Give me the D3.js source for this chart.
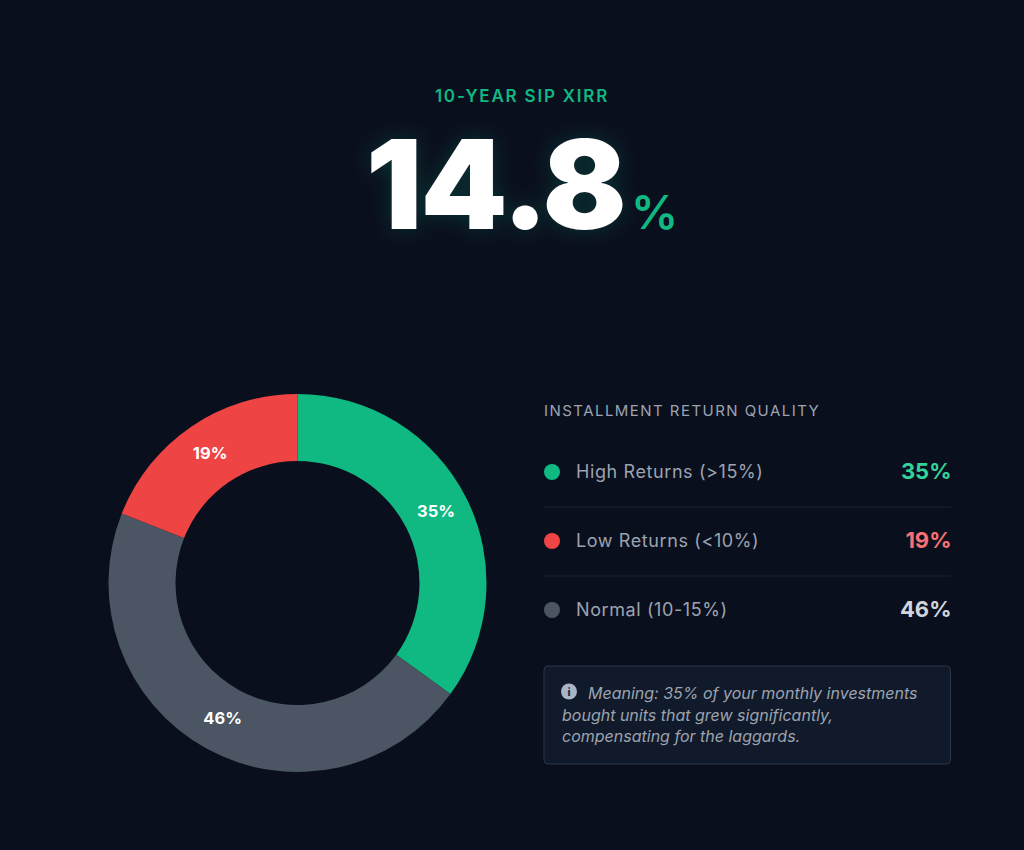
<!DOCTYPE html>
<html><head><meta charset="utf-8">
<script src="https://cdn.jsdelivr.net/npm/d3@7/dist/d3.min.js"></script>
<style>html,body{margin:0;padding:0;background:#0a0f1e;overflow:hidden}svg{display:block}</style>
</head><body><svg id="c" width="1024" height="850"></svg>
<script>
const categories=["High Returns (>15%)","Normal (10-15%)","Low Returns (<10%)"];
const values=[35,46,19];
const colors=["#10b981","#4b5563","#ef4444"];
const legendOrder=["High Returns (>15%)","Low Returns (<10%)","Normal (10-15%)"];
const legendValues=[35,19,46];
const legendDots=["#10b981","#ef4444","#4b5563"];
const legendValueColors=["#34d399","#f87171","#d1d5db"];
const noteLines=["Meaning: 35% of your monthly investments","bought units that grew significantly,","compensating for the laggards."];
const body="Inter, sans-serif";
const svg=d3.select("#c");
const defs=svg.append("defs");
const g1=defs.append("filter").attr("id","glow").attr("x","-20%").attr("y","-30%").attr("width","140%").attr("height","160%");
g1.append("feDropShadow").attr("dx",0).attr("dy",0).attr("stdDeviation",10).attr("flood-color","#10b981").attr("flood-opacity",.22);
svg.append("rect").attr("width",1024).attr("height",850).attr("fill","#0a0f1e");
svg.append("text").attr("x",522).attr("y",101.5).attr("text-anchor","middle").attr("fill","#10b981")
 .attr("font-family",body).attr("font-size",17).attr("font-weight",600).attr("letter-spacing",1.8).text("10-YEAR SIP XIRR");
svg.append("text").attr("x",366).attr("y",229).attr("fill","#fff").attr("filter","url(#glow)")
 .attr("font-family",body).attr("font-size",124).attr("font-weight",900).attr("letter-spacing",-1.5).text("14.8");
svg.append("text").attr("x",631).attr("y",229).attr("fill","#10b981")
 .attr("font-family",body).attr("font-size",47).attr("font-weight",600).text("%");
const pie=d3.pie().sort(null)(values);
const arc=d3.arc().innerRadius(122).outerRadius(189);
const d=svg.append("g").attr("transform","translate(297.5,583)");
d.selectAll("path").data(pie).join("path").attr("d",arc).attr("fill",(p,i)=>colors[i]);
d.selectAll("text").data(pie).join("text").attr("transform",p=>`translate(${arc.centroid(p)})`)
 .attr("text-anchor","middle").attr("dy","0.3em").attr("fill","#fff").attr("font-family",body).attr("font-size",16.5).attr("font-weight",700)
 .text(p=>p.data+"%");
svg.append("text").attr("x",544).attr("y",416).attr("fill","#9ca3af").attr("font-family",body).attr("font-size",15).attr("letter-spacing",1.45).text("INSTALLMENT RETURN QUALITY");
const rowY=d3.scalePoint().domain(legendOrder).range([472,610]);
const rows=svg.append("g").selectAll("g").data(legendOrder).join("g").attr("transform",c=>`translate(0,${rowY(c)})`);
rows.append("circle").attr("cx",552).attr("cy",0).attr("r",8).attr("fill",(c,i)=>legendDots[i]);
rows.append("text").attr("x",576).attr("y",6).attr("fill","#9ca3af").attr("font-family",body).attr("font-size",18).attr("letter-spacing",.6).text(c=>c);
rows.append("text").attr("x",951.5).attr("y",7).attr("text-anchor","end").attr("fill",(c,i)=>legendValueColors[i]).attr("font-family",body).attr("font-size",22).attr("font-weight",700).text((c,i)=>legendValues[i]+"%");
rows.filter((c,i)=>i<2).append("line").attr("x1",544).attr("x2",951).attr("y1",35).attr("y2",35).attr("stroke","#1b2230");
svg.append("rect").attr("x",544).attr("y",666).attr("width",406.5).attr("height",98).attr("rx",4).attr("fill","#111a2a").attr("stroke","#2b3545");
svg.append("circle").attr("cx",569).attr("cy",691.5).attr("r",8).attr("fill","#a9b4c4");
svg.append("text").attr("x",569).attr("y",696).attr("text-anchor","middle").attr("fill","#1f2937").attr("font-family",body).attr("font-size",11).attr("font-weight",800).text("i");
svg.append("g").selectAll("text").data(noteLines).join("text").attr("x",(t,i)=>i?562:588).attr("y",(t,i)=>699+i*21.7)
 .attr("fill","#9ca3af").attr("font-family",body).attr("font-size",16).attr("font-style","italic").text(t=>t);
</script></body></html>
